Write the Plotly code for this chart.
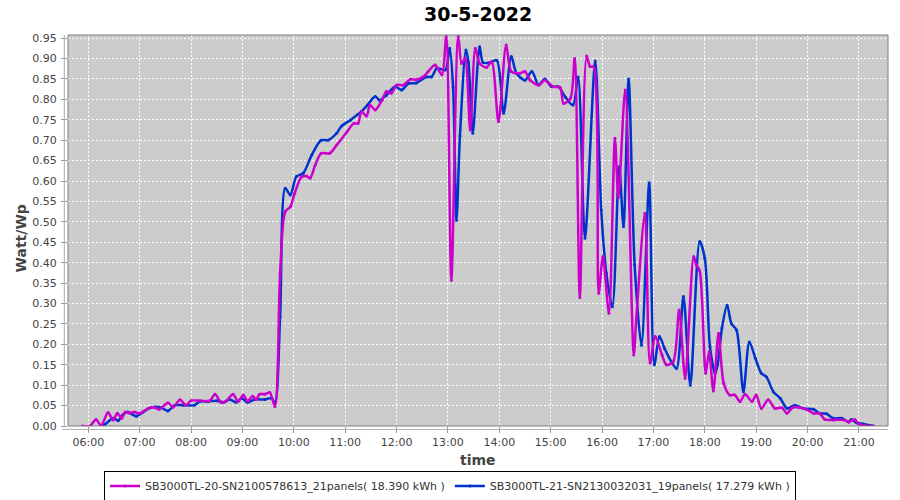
import plotly.graph_objects as go

DAY = "2022-05-30"

series1_name = "SB3000TL-20-SN2100578613_21panels( 18.390 kWh )"
series1_times = ["05:53","06:02","06:09","06:15","06:23","06:29","06:34","06:39","06:43","06:48","06:54","07:00",
    "07:10","07:16","07:23","07:33","07:39","07:47","07:54","08:00","08:11","08:22","08:28","08:35","08:41","08:49",
    "08:55","09:01","09:06","09:12","09:16","09:20","09:26","09:32","09:38","09:44","09:50","09:56","10:01","10:09",
    "10:15","10:19","10:25","10:32","10:42","10:50","11:02","11:10","11:15","11:19","11:25","11:29","11:35","11:43",
    "11:48","11:54","12:00","12:08","12:16","12:23","12:31","12:37","12:45","12:53","12:58","13:04","13:12","13:16",
    "13:20","13:26","13:32","13:37","13:45","13:51","13:59","14:08","14:14","14:24","14:30","14:36","14:46","14:53",
    "15:03","15:11","15:15","15:23","15:28","15:34","15:42","15:46","15:50","15:56","16:01","16:08","16:15","16:19",
    "16:27","16:37","16:40","16:50","16:56","17:02","17:10","17:15","17:23","17:30","17:37","17:47","17:50","17:54",
    "18:01","18:05","18:10","18:16","18:22","18:29","18:35","18:41","18:47","18:55","19:00","19:06","19:14","19:22",
    "19:30","19:36","19:43","19:51","19:59","20:07","20:14","20:20","20:30","20:42","20:48","20:55","21:00","21:09","21:17"]
series1_values = [0.000,0.000,0.016,0.001,0.033,0.015,0.031,0.019,0.034,0.032,0.034,0.031,
    0.043,0.046,0.041,0.057,0.046,0.064,0.051,0.062,0.062,0.062,0.078,0.058,0.061,0.078,
    0.060,0.076,0.061,0.073,0.065,0.078,0.078,0.082,0.047,0.374,0.525,0.537,0.570,0.610,
    0.612,0.607,0.639,0.668,0.668,0.688,0.720,0.741,0.741,0.770,0.759,0.786,0.774,0.798,
    0.819,0.815,0.835,0.835,0.849,0.848,0.855,0.868,0.884,0.860,0.955,0.357,0.955,0.888,
    0.900,0.725,0.925,0.888,0.878,0.892,0.745,0.933,0.868,0.864,0.868,0.847,0.835,0.847,
    0.831,0.829,0.790,0.802,0.900,0.315,0.906,0.880,0.880,0.325,0.415,0.276,0.705,0.560,
    0.823,0.174,0.264,0.521,0.154,0.219,0.174,0.150,0.157,0.284,0.117,0.415,0.395,0.380,
    0.129,0.182,0.086,0.227,0.105,0.076,0.076,0.060,0.078,0.060,0.076,0.043,0.064,0.043,
    0.045,0.031,0.046,0.045,0.040,0.031,0.031,0.016,0.015,0.015,0.010,0.016,0.005,0.000,0.000]

series2_name = "SB3000TL-21-SN2130032031_19panels( 17.279 kWh )"
series2_times = ["06:15","06:20","06:29","06:35","06:40","06:46","06:56","07:04","07:13","07:24","07:33","07:41",
    "07:51","08:04","08:10","08:20","08:30","08:38","08:45","08:53","08:59","09:06","09:14","09:26","09:34","09:38",
    "09:44","09:50","09:56","10:03","10:11","10:21","10:32","10:40","10:50","10:56","11:06","11:14","11:19","11:26",
    "11:35","11:40","11:48","11:58","12:06","12:14","12:23","12:35","12:41","12:47","12:57","13:02","13:06","13:10",
    "13:14","13:21","13:24","13:29","13:37","13:41","13:49","13:57","14:05","14:14","14:20","14:30","14:38","14:46",
    "14:53","15:01","15:09","15:17","15:26","15:32","15:40","15:52","15:59","16:05","16:12","16:20","16:25","16:31",
    "16:38","16:46","16:55","17:01","17:07","17:13","17:21","17:27","17:35","17:43","17:54","18:00","18:06","18:12",
    "18:15","18:20","18:26","18:31","18:37","18:45","18:52","18:59","19:06","19:12","19:20","19:28","19:36","19:45",
    "19:55","20:07","20:14","20:22","20:30","20:40","20:48","20:51","20:57","21:05","21:17"]
series2_values = [0.000,0.005,0.019,0.013,0.027,0.034,0.024,0.034,0.045,0.046,0.037,0.051,
    0.051,0.051,0.060,0.060,0.062,0.058,0.065,0.058,0.068,0.058,0.065,0.065,0.068,0.057,
    0.268,0.582,0.566,0.611,0.619,0.664,0.700,0.700,0.717,0.735,0.749,0.762,0.770,0.786,
    0.807,0.798,0.810,0.831,0.823,0.839,0.840,0.855,0.855,0.876,0.872,0.925,0.830,0.504,
    0.710,0.921,0.890,0.717,0.929,0.890,0.890,0.896,0.766,0.905,0.864,0.847,0.868,0.835,
    0.850,0.831,0.831,0.806,0.786,0.855,0.460,0.894,0.529,0.374,0.292,0.635,0.488,0.850,
    0.395,0.198,0.596,0.150,0.219,0.190,0.157,0.141,0.317,0.100,0.452,0.410,0.194,0.129,
    0.150,0.240,0.296,0.251,0.235,0.084,0.206,0.166,0.129,0.120,0.084,0.068,0.043,0.051,
    0.043,0.041,0.031,0.030,0.019,0.019,0.010,0.016,0.008,0.005,0.000]

x_tick_labels = ["06:00","07:00","08:00","09:00","10:00","11:00","12:00","13:00","14:00","15:00","16:00","17:00","18:00","19:00","20:00","21:00"]
y_tick_values = [round(i * 0.05, 2) for i in range(20)]

def ts(times):
    return [f"{DAY} {t}" for t in times]

FONT = "DejaVu Sans"
fig = go.Figure()
fig.add_trace(go.Scatter(
    x=ts(series2_times), y=series2_values, name=series2_name, mode="lines+markers",
    line=dict(color="#0033cc", width=2.5, shape="spline", smoothing=0.8),
    marker=dict(size=3, color="#0033cc"), legendrank=2))
fig.add_trace(go.Scatter(
    x=ts(series1_times), y=series1_values, name=series1_name, mode="lines+markers",
    line=dict(color="#cc00cc", width=2.5, shape="spline", smoothing=0.8),
    marker=dict(size=3, color="#cc00cc"), legendrank=1))

fig.update_layout(
    width=900, height=500,
    margin=dict(l=68, r=12, t=35, b=74, autoexpand=False),
    paper_bgcolor="white", plot_bgcolor="#cccccc",
    font=dict(family=FONT, size=11, color="#444444"),
    showlegend=True,
    legend=dict(orientation="h", x=(450 - 68) / 820, xanchor="center", y=(426 - 486) / 391, yanchor="middle",
                bgcolor="white", bordercolor="black", borderwidth=1,
                font=dict(family=FONT, size=11, color="#333333"), itemwidth=30,
                traceorder="normal"),
)
fig.update_xaxes(
    type="date",
    range=[f"{DAY} 05:36:18", f"{DAY} 21:33:54"],
    tickvals=ts(x_tick_labels), ticktext=x_tick_labels,
    showgrid=True, gridcolor="white", griddash="2px,2px", gridwidth=1,
    ticks="outside", ticklen=6, tickcolor="#999999",
    showline=False, zeroline=False, automargin=False,
    tickfont=dict(family=FONT, size=11, color="#444444"),
)
fig.update_yaxes(
    range=[0, 0.9576],
    tickvals=y_tick_values, ticktext=[f"{v:.2f}" for v in y_tick_values],
    showgrid=True, gridcolor="white", griddash="2px,2px", gridwidth=1,
    ticks="outside", ticklen=6, tickcolor="#999999", ticklabelstandoff=2,
    showline=False, zeroline=False, automargin=False,
    tickfont=dict(family=FONT, size=11, color="#444444"),
)
# plot outline and offset axis lines
fig.add_shape(type="rect", xref="x domain", yref="y domain", x0=0, x1=1, y0=0, y1=1,
              line=dict(color="#7f7f7f", width=1), fillcolor="rgba(0,0,0,0)", layer="above")
fig.add_shape(type="line", xref="x domain", yref="y domain", x0=-0.007, x1=1, y0=-0.0087, y1=-0.0087,
              line=dict(color="#aaaaaa", width=1))
fig.add_shape(type="line", xref="x domain", yref="y domain", x0=-0.0045, x1=-0.0045, y0=0, y1=1,
              line=dict(color="#aaaaaa", width=1))

fig.add_annotation(text="<b>30-5-2022</b>", xref="paper", yref="paper", x=0.5, y=(426 - 14) / 391,
                   yanchor="middle", showarrow=False, font=dict(family=FONT, size=19, color="black"))
fig.add_annotation(text="<b>time</b>", xref="paper", yref="paper", x=0.5, y=0, yanchor="middle",
                   yshift=-34, showarrow=False, font=dict(family=FONT, size=14, color="#444444"))
fig.add_annotation(text="<b>Watt/Wp</b>", xref="paper", yref="paper", x=0, y=0.5, xanchor="center",
                   yanchor="middle", xshift=-48, yshift=-8, textangle=-90, showarrow=False,
                   font=dict(family=FONT, size=14, color="#444444"))

fig.write_html("out.html", config={"displayModeBar": False},
               post_script="document.body.style.margin='0px';")
